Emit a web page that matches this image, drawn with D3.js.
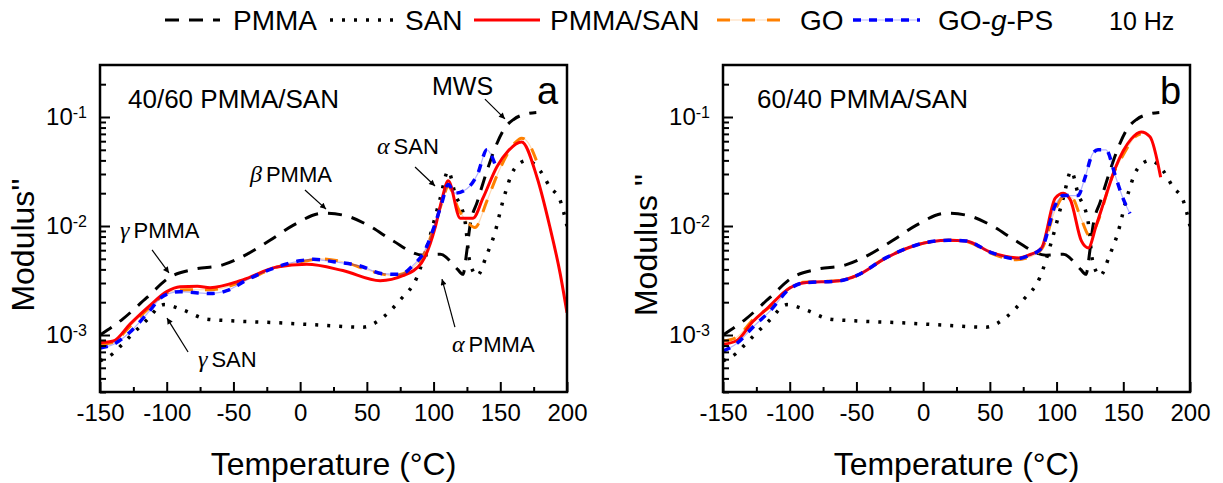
<!DOCTYPE html>
<html>
<head>
<meta charset="utf-8">
<script src="https://cdn.jsdelivr.net/npm/d3@7"></script>
<style>
  body { margin: 0; background: #fff; }
  svg { font-family: "Liberation Sans", Arial, sans-serif; }
</style>
</head>
<body>
<svg id="chart" width="1223" height="483"></svg>
<script>
// Loss modulus vs temperature, 10 Hz

// pure components (same in both panels)
const T_PMMA = [-150, -133, -115, -97.5, -80, -58, -40, -22.6, -5, 17, 32, 52, 69.6, 92, 105, 118, 122, 125, 127, 133, 140, 145, 153, 160, 170, 177];
const M_PMMA = [1.0e-3, 1.4e-3, 2.2e-3, 3.4e-3, 4.0e-3, 4.4e-3, 5.5e-3, 7.4e-3, 1.02e-2, 1.31e-2, 1.26e-2, 1.0e-2, 7.3e-3, 5.4e-3, 5.5e-3, 4.0e-3, 3.6e-3, 6.0e-3, 9.5e-3, 1.7e-2, 3.2e-2, 4.8e-2, 7.8e-2, 9.5e-2, 0.107, 0.11];

const T_SAN = [-150, -140, -133, -115, -102, -88, -70, -52, -20, 17, 47, 62, 75, 87.6, 97, 105, 111, 116, 123.6, 127, 132.6, 140, 146, 152, 161, 170, 180, 187, 195, 200];
const M_SAN = [5.8e-4, 6.8e-4, 8.3e-4, 1.37e-3, 1.9e-3, 1.7e-3, 1.4e-3, 1.35e-3, 1.3e-3, 1.23e-3, 1.18e-3, 1.45e-3, 2.1e-3, 3.4e-3, 7.8e-3, 1.8e-2, 3.2e-2, 2.0e-2, 1.1e-2, 4.8e-3, 3.5e-3, 5.5e-3, 8.7e-3, 1.7e-2, 3.4e-2, 4.0e-2, 3.2e-2, 2.3e-2, 1.7e-2, 1.0e-2];

// panel a: 40/60 PMMA/SAN
const T_BLEND_A = [-150, -140, -127.5, -112.5, -100, -90, -77, -67.5, -43, -17.5, 5, 32, 60, 77, 91, 101, 106, 111, 120, 129.6, 137, 147.5, 156, 166, 177.5, 187, 195, 200];
const M_BLEND_A = [8.5e-4, 8.8e-4, 1.26e-3, 1.87e-3, 2.5e-3, 2.77e-3, 2.8e-3, 2.72e-3, 3.2e-3, 4.2e-3, 4.45e-3, 3.9e-3, 3.15e-3, 3.5e-3, 4.6e-3, 9.5e-3, 1.7e-2, 2.6e-2, 1.18e-2, 1.18e-2, 1.8e-2, 3.5e-2, 4.9e-2, 5.9e-2, 2.8e-2, 1.0e-2, 3.6e-3, 1.6e-3];

const T_GO_A = [-150, -140, -127.5, -112.5, -97.5, -85, -67, -43, -17.5, 5, 15, 32, 55, 70, 85, 93, 100, 106, 111, 119, 125, 131, 140, 148, 155, 161, 166, 171, 177];
const M_GO_A = [8.2e-4, 8.6e-4, 1.2e-3, 1.8e-3, 2.5e-3, 2.6e-3, 2.6e-3, 3.1e-3, 4.2e-3, 4.8e-3, 5.0e-3, 4.7e-3, 3.8e-3, 3.5e-3, 4.2e-3, 5.6e-3, 9.5e-3, 1.6e-2, 2.3e-2, 1.4e-2, 1.1e-2, 9.7e-3, 1.7e-2, 3.0e-2, 4.5e-2, 5.8e-2, 6.4e-2, 5.8e-2, 4.0e-2];

const T_GPS_A = [-150, -140, -128, -115, -102, -90, -80, -67, -55, -40, -20, 0, 10, 25, 45, 62, 75, 85, 93, 100, 106, 111, 116, 125, 133, 140, 146];
const M_GPS_A = [7.6e-4, 8.2e-4, 1.05e-3, 1.55e-3, 2.3e-3, 2.5e-3, 2.45e-3, 2.4e-3, 2.55e-3, 3.2e-3, 4.1e-3, 4.8e-3, 4.95e-3, 4.7e-3, 4.3e-3, 3.65e-3, 3.6e-3, 4.4e-3, 5.8e-3, 9.5e-3, 1.6e-2, 2.4e-2, 2.0e-2, 2.2e-2, 3.0e-2, 5.0e-2, 3.7e-2];

// panel b: 60/40 PMMA/SAN
const T_BLEND_B = [-150, -139.6, -127.6, -117, -100, -90, -62.7, -50, -27.7, -5, 19, 32, 51.5, 71.6, 79, 88.7, 99, 105, 110.4, 118.6, 123.8, 129.8, 137, 144, 150, 156, 163.4, 170, 178];
const M_BLEND_B = [8.2e-4, 8.9e-4, 1.33e-3, 1.75e-3, 2.7e-3, 3.0e-3, 3.15e-3, 3.5e-3, 5.1e-3, 6.7e-3, 7.4e-3, 7.3e-3, 5.7e-3, 5.1e-3, 5.4e-3, 6.3e-3, 1.8e-2, 2.0e-2, 1.73e-2, 7.3e-3, 6.3e-3, 1.02e-2, 1.9e-2, 3.4e-2, 4.9e-2, 6.3e-2, 7.3e-2, 6.6e-2, 2.8e-2];

const T_GO_B = [-150, -140, -127, -115, -100, -90, -62, -50, -28, -5, 19, 32, 51, 70, 80, 89, 99, 106, 112, 118, 125, 131, 141, 150, 159, 163];
const M_GO_B = [8.8e-4, 9.5e-4, 1.4e-3, 1.8e-3, 2.7e-3, 3.05e-3, 3.15e-3, 3.5e-3, 5.1e-3, 6.7e-3, 7.4e-3, 7.2e-3, 5.6e-3, 4.9e-3, 5.2e-3, 6.2e-3, 1.4e-2, 1.9e-2, 1.8e-2, 1.2e-2, 8.1e-3, 1.1e-2, 2.7e-2, 4.5e-2, 6.6e-2, 7.0e-2];

const T_GPS_B = [-150, -140, -127, -115, -100, -90, -62, -50, -28, -5, 19, 32, 51, 70, 80, 89, 99, 105, 110, 116, 121, 127, 131, 137, 144, 149, 155];
const M_GPS_B = [7.1e-4, 8.3e-4, 1.2e-3, 1.65e-3, 2.65e-3, 3.0e-3, 3.15e-3, 3.5e-3, 5.1e-3, 6.7e-3, 7.4e-3, 7.3e-3, 5.7e-3, 5.0e-3, 5.4e-3, 6.3e-3, 1.55e-2, 1.9e-2, 1.9e-2, 1.9e-2, 2.7e-2, 4.6e-2, 5.0e-2, 5.0e-2, 2.9e-2, 1.9e-2, 1.3e-2];

const xTicks = [-150, -100, -50, 0, 50, 100, 150, 200];
const yTicks = [1e-3, 1e-2, 1e-1];
const seriesNames = ["PMMA", "SAN", "PMMA/SAN", "GO", "GO-g-PS"];

// peak annotations of panel a: label anchor, arrow tail, arrow tip (T, modulus)
const annotations = [
  { greek: "", text: "MWS", at: [98.8, 0.159], from: [138.5, 0.146], to: [153.5, 0.096] },
  { greek: "\u03b1", text: "SAN", at: [57.6, 0.0458], from: [86.1, 0.0348], to: [101.1, 0.0233] },
  { greek: "\u03b2", text: "PMMA", at: [-37.6, 0.0253], from: [3.6, 0.0214], to: [19.4, 0.0143] },
  { greek: "\u03b3", text: "PMMA", at: [-135, 7.76e-3], from: [-111, 6.03e-3], to: [-98.3, 3.71e-3] },
  { greek: "\u03b3", text: "SAN", at: [-76.6, 5.08e-4], from: [-84, 6.98e-4], to: [-99.8, 1.43e-3] },
  { greek: "\u03b1", text: "PMMA", at: [113.8, 6.98e-4], from: [116, 1.18e-3], to: [106.3, 3.26e-3] }
];

const svg = d3.select("#chart");

// line styles per series
const styles = {
  "PMMA": { color: "#000", width: 3, dash: "14,10" },
  "SAN": { color: "#000", width: 3.5, dash: "3,9" },
  "PMMA/SAN": { color: "#ff0000", width: 3, dash: null },
  "GO": { color: "#ff8000", width: 3, dash: "13,12", faint: true },
  "GO-g-PS": { color: "#0000ff", width: 3.5, dash: "8,8", faint: true }
};

const defs = svg.append("defs");
defs.append("marker")
  .attr("id", "arrow")
  .attr("viewBox", "0 0 10 10")
  .attr("refX", 10).attr("refY", 5)
  .attr("markerWidth", 9).attr("markerHeight", 6)
  .attr("markerUnits", "userSpaceOnUse")
  .attr("orient", "auto")
  .append("path").attr("d", "M0,0 L10,5 L0,10 z").attr("fill", "#000");

const panels = [
  { id: "a", left: 100, right: 567, label: "40/60 PMMA/SAN", yTitle: "Modulus''", titleX: 23,
    series: { "PMMA": [T_PMMA, M_PMMA], "SAN": [T_SAN, M_SAN], "GO": [T_GO_A, M_GO_A], "PMMA/SAN": [T_BLEND_A, M_BLEND_A], "GO-g-PS": [T_GPS_A, M_GPS_A] } },
  { id: "b", left: 723, right: 1190, label: "60/40 PMMA/SAN", yTitle: "Modulus ''", titleX: 646,
    series: { "PMMA": [T_PMMA, M_PMMA], "SAN": [T_SAN, M_SAN], "GO": [T_GO_B, M_GO_B], "PMMA/SAN": [T_BLEND_B, M_BLEND_B], "GO-g-PS": [T_GPS_B, M_GPS_B] } }
];

const plotTop = 65, plotBottom = 392;
const drawOrder = ["PMMA", "SAN", "GO", "PMMA/SAN", "GO-g-PS"];

panels.forEach(function (p) {
  const x = d3.scaleLinear().domain([-150, 200]).range([p.left, p.right]);
  const y = d3.scaleLog().domain([3e-4, 0.3]).range([plotBottom, plotTop]);
  const g = svg.append("g").attr("class", "panel-" + p.id);

  defs.append("clipPath").attr("id", "clip-" + p.id)
    .append("rect")
    .attr("x", p.left).attr("y", plotTop)
    .attr("width", p.right - p.left).attr("height", plotBottom - plotTop);

  const line = d3.line()
    .x(d => x(d[0]))
    .y(d => y(d[1]))
    .curve(d3.curveMonotoneX);

  const curves = g.append("g").attr("clip-path", "url(#clip-" + p.id + ")");

  drawOrder.forEach(function (name) {
    const s = styles[name];
    const pts = p.series[name][0].map((t, i) => [t, p.series[name][1][i]]);
    if (s.faint) {
      curves.append("path")
        .attr("d", line(pts))
        .attr("fill", "none")
        .attr("stroke", s.color)
        .attr("stroke-opacity", 0.3)
        .attr("stroke-width", 1.2);
    }
    curves.append("path")
      .attr("d", line(pts))
      .attr("fill", "none")
      .attr("stroke", s.color)
      .attr("stroke-width", s.width)
      .attr("stroke-dasharray", s.dash);
  });

  // x axis (inward ticks)
  const minorX = d3.range(-125, 200, 50);
  g.append("g")
    .attr("transform", "translate(0," + plotBottom + ")")
    .call(d3.axisBottom(x).tickValues(minorX).tickSize(-5).tickFormat(""))
    .call(a => a.select(".domain").remove())
    .call(a => a.selectAll("line").attr("stroke-width", 2));

  g.append("g")
    .attr("transform", "translate(0," + plotBottom + ")")
    .call(d3.axisBottom(x).tickValues(xTicks).tickSize(-10).tickPadding(12).tickFormat(d => String(d)))
    .call(a => a.select(".domain").remove())
    .call(a => a.selectAll("line").attr("stroke-width", 2))
    .call(a => a.selectAll("text")
      .attr("font-size", 24)
      .attr("font-family", "Liberation Sans, Arial, sans-serif")
      .attr("fill", "#000"));

  // y axis (log, inward ticks)
  const minorY = [];
  [1e-4, 1e-3, 1e-2, 1e-1].forEach(dec => {
    for (let k = 2; k <= 9; k++) {
      const v = dec * k;
      if (v > 3e-4 && v < 0.3) minorY.push(v);
    }
  });
  g.append("g")
    .attr("transform", "translate(" + p.left + ",0)")
    .call(d3.axisLeft(y).tickValues(minorY).tickSize(-6).tickFormat(""))
    .call(a => a.select(".domain").remove())
    .call(a => a.selectAll("line").attr("stroke-width", 2));

  g.append("g")
    .attr("transform", "translate(" + p.left + ",0)")
    .call(d3.axisLeft(y).tickValues(yTicks).tickSize(-10).tickPadding(13).tickFormat(""))
    .call(a => a.select(".domain").remove())
    .call(a => a.selectAll("line").attr("stroke-width", 2))
    .call(a => a.selectAll(".tick text").each(function (d) {
      const t = d3.select(this)
        .attr("font-size", 24)
        .attr("font-family", "Liberation Sans, Arial, sans-serif")
        .attr("fill", "#000");
      t.append("tspan").text("10");
      t.append("tspan").attr("font-size", 16).attr("dy", -7).text(Math.round(Math.log10(d)));
    }));

  // frame
  g.append("rect")
    .attr("x", p.left).attr("y", plotTop)
    .attr("width", p.right - p.left).attr("height", plotBottom - plotTop)
    .attr("fill", "none").attr("stroke", "#000").attr("stroke-width", 2.5);

  // axis titles
  g.append("text")
    .attr("x", (p.left + p.right) / 2).attr("y", 475)
    .attr("text-anchor", "middle").attr("font-size", 32)
    .text("Temperature (\u00b0C)");

  g.append("text")
    .attr("transform", "translate(" + (p.titleX + 11) + ",245) rotate(-90)")
    .attr("text-anchor", "middle").attr("font-size", 32)
    .text(p.yTitle);

  // panel labels
  g.append("text")
    .attr("x", p.left + 28 + (p.id === "b" ? 6 : 0)).attr("y", 108)
    .attr("font-size", 26)
    .text(p.label);
  g.append("text")
    .attr("x", p.right - 30).attr("y", 104)
    .attr("font-size", 38)
    .text(p.id);

  // peak annotations (panel a only)
  if (p.id === "a") {
    annotations.forEach(function (a) {
      g.append("line")
        .attr("x1", x(a.from[0])).attr("y1", y(a.from[1]))
        .attr("x2", x(a.to[0])).attr("y2", y(a.to[1]))
        .attr("stroke", "#000").attr("stroke-width", 1.2)
        .attr("marker-end", "url(#arrow)");
      const t = g.append("text")
        .attr("x", x(a.at[0])).attr("y", y(a.at[1]))
        .attr("font-size", a.greek ? 22 : 25);
      if (a.greek) {
        t.append("tspan")
          .attr("font-family", "Liberation Serif, serif")
          .attr("font-style", "italic")
          .attr("font-size", 24)
          .text(a.greek);
        t.append("tspan").attr("dx", 4).text(a.text);
      } else {
        t.text(a.text);
      }
    });
  }
});

// legend across the top
const legendItems = [
  { name: "PMMA", x1: 165, x2: 220, tx: 233 },
  { name: "SAN", x1: 330, x2: 395, tx: 405 },
  { name: "PMMA/SAN", x1: 474, x2: 540, tx: 550 },
  { name: "GO", x1: 717, x2: 780, tx: 800 },
  { name: "GO-g-PS", x1: 853, x2: 920, tx: 938 }
];
const legend = svg.append("g").attr("class", "legend");
legendItems.forEach(function (it, i) {
  const s = styles[seriesNames[i]];
  if (s.faint) {
    legend.append("line")
      .attr("x1", it.x1).attr("x2", it.x2).attr("y1", 20).attr("y2", 20)
      .attr("stroke", s.color).attr("stroke-opacity", 0.3).attr("stroke-width", 1.2);
  }
  legend.append("line")
    .attr("x1", it.x1).attr("x2", it.x2).attr("y1", 20).attr("y2", 20)
    .attr("stroke", s.color).attr("stroke-width", s.width)
    .attr("stroke-dasharray", s.dash);
  const t = legend.append("text").attr("x", it.tx).attr("y", 30).attr("font-size", 28);
  if (it.name === "GO-g-PS") {
    t.append("tspan").text("GO-");
    t.append("tspan").attr("font-style", "italic").text("g");
    t.append("tspan").text("-PS");
  } else {
    t.text(it.name);
  }
});
legend.append("text").attr("x", 1109).attr("y", 30).attr("font-size", 25).text("10 Hz");
</script>
</body>
</html>
